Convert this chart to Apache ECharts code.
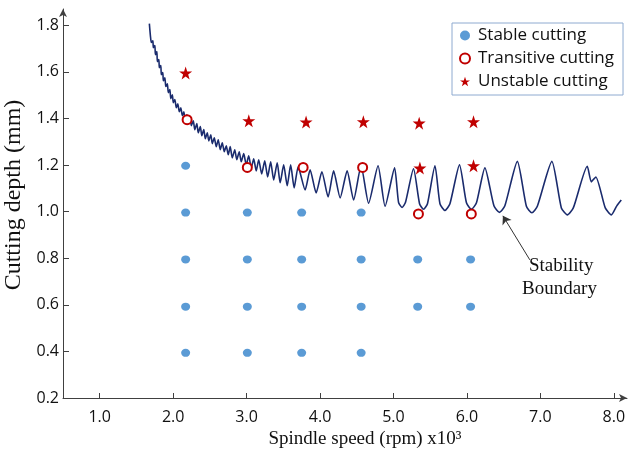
<!DOCTYPE html>
<html>
<head>
<meta charset="utf-8">
<script src="https://cdn.jsdelivr.net/npm/echarts@6/dist/echarts.min.js"></script>
<style>
  html, body { margin: 0; padding: 0; background: #fff; }
  #chart { width: 629px; height: 452px; }
</style>
</head>
<body>
<div id="chart"></div>
<script>
// tick labels
const xTicks = [1, 2, 3, 4, 5, 6, 7, 8];
const yTicks = [0.2, 0.4, 0.6, 0.8, 1.0, 1.2, 1.4, 1.6, 1.8];

// test points [speed x10^3 rpm, depth mm]
const stable = [
  [2.17, 1.197], [2.17, 0.996], [2.17, 0.795], [2.17, 0.592], [2.17, 0.394],
  [3.01, 0.996], [3.01, 0.795], [3.01, 0.592], [3.01, 0.394],
  [3.75, 0.996], [3.75, 0.795], [3.75, 0.592], [3.75, 0.394],
  [4.56, 0.996], [4.56, 0.795], [4.56, 0.592], [4.56, 0.394],
  [5.33, 0.795], [5.33, 0.592],
  [6.05, 0.795], [6.05, 0.592]
];
const transitive = [
  [2.19, 1.395], [3.01, 1.19], [3.77, 1.19], [4.58, 1.19], [5.34, 0.99], [6.06, 0.99]
];
const unstable = [
  [2.17, 1.595], [3.03, 1.39], [3.81, 1.385], [4.59, 1.386], [5.35, 1.38], [6.09, 1.386],
  [5.36, 1.187], [6.09, 1.197]
];

// stability lobe boundary
const boundary = [
  [1.676, 1.807], [1.690, 1.756], [1.703, 1.726], [1.724, 1.734], [1.730, 1.704], [1.751, 1.713],
  [1.758, 1.674], [1.778, 1.687], [1.785, 1.644], [1.805, 1.653], [1.812, 1.618], [1.832, 1.627],
  [1.839, 1.588], [1.859, 1.597], [1.866, 1.562], [1.887, 1.575], [1.900, 1.537], [1.921, 1.549],
  [1.934, 1.511], [1.955, 1.524], [1.968, 1.485], [1.989, 1.502], [2.002, 1.468], [2.023, 1.481],
  [2.043, 1.446], [2.063, 1.463], [2.084, 1.429], [2.104, 1.446], [2.125, 1.412], [2.145, 1.429],
  [2.166, 1.395], [2.186, 1.416], [2.207, 1.382], [2.227, 1.408], [2.247, 1.369], [2.274, 1.390],
  [2.295, 1.352], [2.322, 1.378], [2.342, 1.339], [2.370, 1.365], [2.390, 1.326], [2.417, 1.352],
  [2.438, 1.313], [2.465, 1.339], [2.485, 1.304], [2.512, 1.330], [2.533, 1.292], [2.560, 1.317],
  [2.587, 1.279], [2.614, 1.309], [2.641, 1.266], [2.669, 1.296], [2.696, 1.257], [2.723, 1.283],
  [2.750, 1.244], [2.777, 1.279], [2.805, 1.231], [2.839, 1.266], [2.866, 1.223], [2.900, 1.257],
  [2.927, 1.214], [2.961, 1.249], [2.995, 1.201], [3.029, 1.240], [3.063, 1.188], [3.097, 1.227],
  [3.131, 1.175], [3.165, 1.223], [3.206, 1.162], [3.247, 1.218], [3.287, 1.149], [3.328, 1.214],
  [3.369, 1.136], [3.417, 1.210], [3.457, 1.124], [3.505, 1.201], [3.553, 1.111], [3.600, 1.201],
  [3.648, 1.102], [3.702, 1.193], [3.797, 1.093], [3.865, 1.180], [3.947, 1.080], [4.025, 1.171],
  [4.110, 1.063], [4.185, 1.175], [4.274, 1.059], [4.369, 1.175], [4.457, 1.050], [4.559, 1.197],
  [4.661, 1.036], [4.790, 1.197], [4.886, 1.023], [5.015, 1.188],
  [5.069, 1.040], [5.117, 1.018], [5.164, 1.040], [5.273, 1.184],
  [5.355, 1.034], [5.409, 1.010], [5.463, 1.034], [5.565, 1.197],
  [5.633, 1.034], [5.701, 1.005], [5.769, 1.034], [5.899, 1.201],
  [5.994, 1.038], [6.062, 1.010], [6.130, 1.038], [6.245, 1.188],
  [6.368, 1.025], [6.443, 0.997], [6.517, 1.025], [6.687, 1.216],
  [6.810, 1.023], [6.885, 0.995], [6.959, 1.023], [7.157, 1.216],
  [7.286, 1.016], [7.368, 0.986], [7.449, 1.016], [7.639, 1.195],
  [7.694, 1.128], [7.755, 1.149],
  [7.884, 1.016], [7.966, 0.986], [8.041, 1.025], [8.102, 1.050]
];

// annotation arrow: from label to the boundary
const arrowFrom = [6.857, 0.793];
const arrowTo = [6.49, 0.982];

const axisColor = '#404040';
const labelFont = 'Open Sans';
const serif = 'Liberation Serif';

const chart = echarts.init(document.getElementById('chart'), null, { renderer: 'canvas' });

chart.setOption({
  animation: false,
  backgroundColor: '#fff',
  grid: { left: 63, right: 2, top: 9, bottom: 54, containLabel: false, outerBoundsMode: 'none' },
  legend: {
    data: ['Stable cutting', 'Transitive cutting', 'Unstable cutting'],
    orient: 'vertical',
    left: 452,
    top: 23,
    padding: [4, 9, 5, 7],
    itemGap: 6,
    itemWidth: 10,
    itemHeight: 10,
    borderColor: '#8eaad0',
    borderWidth: 1,
    textStyle: { fontFamily: labelFont, fontSize: 17, color: '#111', padding: [0, 0, 0, 3] }
  },
  xAxis: {
    type: 'value',
    min: 0.5,
    max: 8.18,
    name: 'Spindle speed (rpm) x10³',
    nameLocation: 'middle',
    nameGap: 31,
    nameTextStyle: { fontFamily: serif, fontSize: 19, color: '#111', padding: [0, 0, 0, 40] },
    splitLine: { show: false },
    axisLine: { lineStyle: { color: axisColor, width: 1 }, symbol: ['none', 'arrow'], symbolSize: [6, 8] },
    axisTick: { inside: true, length: 5, customValues: xTicks, lineStyle: { color: axisColor } },
    axisLabel: {
      customValues: xTicks,
      formatter: v => v.toFixed(1),
      fontFamily: labelFont, fontSize: 16, color: '#111', margin: 11
    }
  },
  yAxis: {
    type: 'value',
    min: 0.2,
    max: 1.87,
    name: 'Cutting depth (mm)',
    nameLocation: 'middle',
    nameGap: 35,
    nameTextStyle: { fontFamily: serif, fontSize: 24, color: '#111', padding: [0, 0, 0, 17] },
    splitLine: { show: false },
    axisLine: { lineStyle: { color: axisColor, width: 1 }, symbol: ['none', 'arrow'], symbolSize: [6, 8] },
    axisTick: { inside: true, length: 6, customValues: yTicks, lineStyle: { color: axisColor } },
    axisLabel: {
      customValues: yTicks,
      formatter: v => v.toFixed(1),
      fontFamily: labelFont, fontSize: 16, color: '#111', margin: 4
    }
  },
  graphic: [
    { type: 'text', left: 529, top: 257, style: { text: 'Stability', font: '19px "Liberation Serif"', fill: '#111' } },
    { type: 'text', left: 522, top: 280, style: { text: 'Boundary', font: '19px "Liberation Serif"', fill: '#111' } }
  ],
  series: [
    {
      name: 'Boundary',
      type: 'line',
      data: boundary,
      showSymbol: false,
      smooth: 0.2,
      lineStyle: { color: '#1a2b6d', width: 1.6 },
      z: 2,
      markLine: {
        silent: true,
        symbol: ['none', 'arrow'],
        symbolSize: 8,
        label: { show: false },
        lineStyle: { color: '#333', width: 1, type: 'solid' },
        data: [[{ coord: arrowFrom }, { coord: arrowTo }]]
      }
    },
    {
      name: 'Stable cutting',
      type: 'scatter',
      data: stable,
      symbol: 'circle',
      symbolSize: [9, 8],
      itemStyle: { color: '#5b9bd5', opacity: 1 },
      z: 3
    },
    {
      name: 'Transitive cutting',
      type: 'scatter',
      data: transitive,
      symbol: 'emptyCircle',
      symbolSize: 9,
      itemStyle: { color: '#c00000', borderWidth: 1.5, opacity: 1 },
      z: 3
    },
    {
      name: 'Unstable cutting',
      type: 'scatter',
      data: unstable,
      symbol: 'path://M50,0 L61.8,35.1 L98.9,35.1 L69.1,57 L80.3,92.1 L50,70.6 L19.7,92.1 L30.9,57 L1.1,35.1 L38.2,35.1 Z',
      symbolSize: 13,
      itemStyle: { color: '#c00000', opacity: 1 },
      z: 3
    }
  ]
});
</script>
</body>
</html>
